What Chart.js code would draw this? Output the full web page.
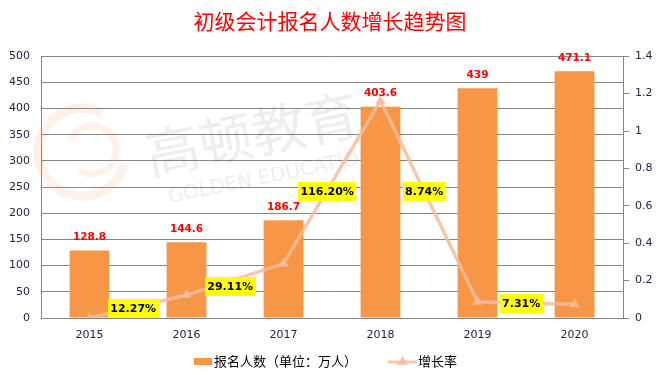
<!DOCTYPE html>
<html>
<head>
<meta charset="utf-8">
<script src="https://cdn.jsdelivr.net/npm/chart.js@4.4.1/dist/chart.umd.min.js"></script>
<style>
  html, body { margin: 0; padding: 0; background: #fff; }
  #wrap { width: 660px; height: 375px; }
</style>
</head>
<body>
<div id="wrap"><canvas id="myChart"></canvas></div>
<script>
// data
var years = ['2015', '2016', '2017', '2018', '2019', '2020'];
var applicants = [128.8, 144.6, 186.7, 403.6, 439, 471.1];
var growthRate = [0, 0.1227, 0.2911, 1.162, 0.0874, 0.0731];
var growthText = ['', '12.27%', '29.11%', '116.20%', '8.74%', '7.31%'];
var leftMax = 500, leftStep = 50;
var rightMax = 1.4, rightStep = 0.2;

var titleText = '初级会计报名人数增长趋势图';
var barName = '报名人数（单位：万人）';
var lineName = '增长率';

var barColor = '#f79646';
var lineColor = 'rgba(248,188,158,0.85)';
var gridColor = '#868686';
var tickColor = '#22224a';

// faint watermark behind the plot
var watermark = {
    id: 'watermark',
    beforeDatasetsDraw: function (chart) {
        var ctx = chart.ctx;
        ctx.save();
        ctx.globalAlpha = 0.11;
        ctx.strokeStyle = '#f08040';
        ctx.lineWidth = 9;
        ctx.beginPath();
        ctx.arc(82, 152, 44, 0.3, 5.2);
        ctx.stroke();
        ctx.lineWidth = 7;
        ctx.beginPath();
        ctx.arc(92, 150, 24, 3.6, 8.4);
        ctx.stroke();
        ctx.translate(252, 134);
        ctx.rotate(-0.2);
        ctx.fillStyle = '#606060';
        ctx.font = '54px "Noto Sans CJK SC"';
        ctx.textAlign = 'center';
        ctx.textBaseline = 'middle';
        ctx.fillText('高顿教育', 0, 0);
        ctx.font = '20px "DejaVu Sans"';
        ctx.fillText('GOLDEN EDUCATION', 10, 46);
        ctx.restore();
    }
};

// value labels for bars and the yellow rate labels
var valueLabels = {
    id: 'valueLabels',
    afterDatasetsDraw: function (chart) {
        var ctx = chart.ctx;
        var x = chart.scales.x, y1 = chart.scales.y1;
        var barMeta = chart.getDatasetMeta(0);
        ctx.save();
        ctx.textAlign = 'center';
        ctx.textBaseline = 'middle';
        ctx.font = 'bold 10.5px "DejaVu Sans"';
        ctx.fillStyle = '#ff0000';
        barMeta.data.forEach(function (bar, i) {
            ctx.fillText(String(applicants[i]), bar.x, bar.y - 13);
        });

        // rate labels sit left of their point, raised where the line is steep
        var labelAt = [0, 0.053, 0.171, 0.679, 0.679, 0.078];
        ctx.font = 'bold 11px "DejaVu Sans"';
        for (var i = 1; i < years.length; i++) {
            var t = growthText[i];
            var cx = x.getPixelForValue(i) - 0.55 * (x.getPixelForValue(1) - x.getPixelForValue(0));
            var cy = y1.getPixelForValue(labelAt[i]);
            var w = ctx.measureText(t).width + 5;
            ctx.fillStyle = '#ffff00';
            ctx.fillRect(Math.round(cx - w / 2), Math.round(cy - 9.5), Math.round(w), 19);
            ctx.fillStyle = '#000';
            ctx.fillText(t, cx, cy + 1);
        }
        ctx.restore();
    }
};

// legend drawn under the axis
var bottomLegend = {
    id: 'bottomLegend',
    afterDraw: function (chart) {
        var ctx = chart.ctx;
        var yMid = 361;
        ctx.save();
        ctx.font = '13px "Noto Sans CJK SC"';
        ctx.textBaseline = 'middle';
        ctx.fillStyle = barColor;
        ctx.fillRect(194, yMid - 3, 18, 7);
        ctx.fillStyle = '#000';
        ctx.fillText(barName, 214, yMid);

        ctx.strokeStyle = lineColor;
        ctx.lineWidth = 3;
        ctx.beginPath();
        ctx.moveTo(388, yMid + 1);
        ctx.lineTo(417, yMid + 1);
        ctx.stroke();
        ctx.fillStyle = lineColor;
        ctx.beginPath();
        ctx.moveTo(402.5, yMid - 5);
        ctx.lineTo(397, yMid + 4);
        ctx.lineTo(408, yMid + 4);
        ctx.closePath();
        ctx.fill();
        ctx.fillStyle = '#000';
        ctx.fillText(lineName, 418, yMid);
        ctx.restore();
    }
};

var ctx = document.getElementById('myChart').getContext('2d');

new Chart(ctx, {
    data: {
        labels: years,
        datasets: [{
            type: 'bar',
            label: barName,
            data: applicants,
            backgroundColor: barColor,
            yAxisID: 'y',
            order: 1,
            barPercentage: 0.41,
            categoryPercentage: 1
        }, {
            type: 'line',
            label: lineName,
            data: growthRate,
            borderColor: lineColor,
            backgroundColor: lineColor,
            borderWidth: 3.5,
            pointStyle: 'triangle',
            pointRadius: 6,
            pointBorderWidth: 0,
            tension: 0,
            yAxisID: 'y1',
            order: 0
        }]
    },
    options: {
        responsive: true,
        maintainAspectRatio: false,
        animation: false,
        layout: { padding: { top: 0, left: 0, right: 0, bottom: 27 } },
        scales: {
            x: {
                grid: { display: false },
                border: { display: true, color: gridColor },
                ticks: { color: tickColor, font: { family: 'DejaVu Sans', size: 11 }, padding: 3 },
                afterFit: function (s) { s.height = 30; }
            },
            y: {
                position: 'left',
                min: 0, max: leftMax,
                grid: { color: gridColor, drawTicks: false },
                border: { display: true, color: gridColor },
                ticks: { stepSize: leftStep, color: tickColor, font: { family: 'DejaVu Sans', size: 11 }, padding: 11 },
                afterFit: function (s) { s.width = 41; }
            },
            y1: {
                position: 'right',
                min: 0, max: rightMax,
                grid: { drawOnChartArea: false, color: gridColor, tickLength: 6 },
                border: { display: true, color: gridColor },
                ticks: {
                    stepSize: rightStep, color: tickColor, font: { family: 'DejaVu Sans', size: 11 }, padding: 6,
                    callback: function (v) { return String(Math.round(v * 10) / 10); }
                },
                afterFit: function (s) { s.width = 37; }
            }
        },
        plugins: {
            legend: { display: false },
            tooltip: { enabled: false },
            title: {
                display: true,
                text: titleText,
                color: '#ff0000',
                font: { family: 'Noto Sans CJK SC', size: 21, weight: 'normal' },
                padding: { top: 8, bottom: 23 }
            }
        }
    },
    plugins: [watermark, valueLabels, bottomLegend]
});
</script>
</body>
</html>
